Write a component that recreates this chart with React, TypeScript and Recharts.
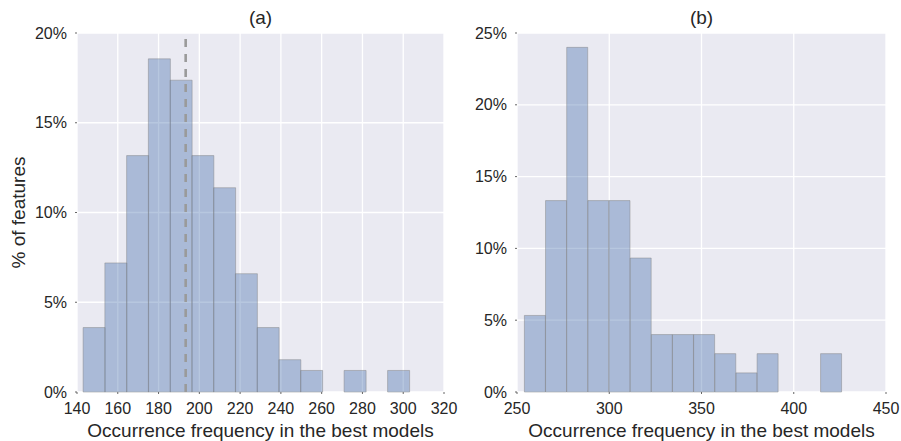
import React from 'react';
import { BarChart, Bar, XAxis, YAxis, CartesianGrid, ReferenceLine } from 'recharts';

// (a) bin centres and share of features (%)
const binsA = [148.33, 159.0, 169.67, 180.33, 191.0, 201.67, 212.33, 223.0, 233.67, 244.33, 255.0, 265.67, 276.33, 287.0, 297.67];
const pctA = [3.59, 7.19, 13.17, 18.56, 17.37, 13.17, 11.38, 6.59, 3.59, 1.8, 1.2, 0, 1.2, 0, 1.2];
const meanA = 193.3;
const xTicksA = [140, 160, 180, 200, 220, 240, 260, 280, 300, 320];
const yTicksA = [0, 5, 10, 15, 20];

// (b)
const binsB = [259.73, 271.2, 282.67, 294.13, 305.6, 317.07, 328.53, 340.0, 351.47, 362.93, 374.4, 385.87, 397.33, 408.8, 420.27];
const pctB = [5.33, 13.33, 24.0, 13.33, 13.33, 9.33, 4.0, 4.0, 4.0, 2.67, 1.33, 2.67, 0, 0, 2.67];
const xTicksB = [250, 300, 350, 400, 450];
const yTicksB = [0, 5, 10, 15, 20, 25];

const FONT = '"Liberation Sans", Arial, sans-serif';
const TEXT = '#262626';
const X_LABEL = 'Occurrence frequency in the best models';

interface HistProps {
  title: string;
  bins: number[];
  pct: number[];
  xTicks: number[];
  yTicks: number[];
  left: number;
  width: number;
  yAxisWidth: number;
  yLabel?: string;
  mean?: number;
}

function Histogram({ title, bins, pct, xTicks, yTicks, left, width, yAxisWidth, yLabel, mean }: HistProps) {
  const data = bins.map((x, i) => ({ x, pct: pct[i] }));
  const xDomain = [xTicks[0], xTicks[xTicks.length - 1]];
  const yDomain = [yTicks[0], yTicks[yTicks.length - 1]];
  const plotCenter = yAxisWidth + (width - yAxisWidth - 15) / 2;

  return (
    <div style={{ position: 'absolute', left, top: 0, width, height: 441 }}>
      <div
        style={{
          position: 'absolute',
          left: plotCenter - 40,
          width: 80,
          top: 7,
          textAlign: 'center',
          fontSize: 19,
          color: TEXT,
          fontFamily: FONT,
          lineHeight: '22px',
        }}
      >
        {title}
      </div>
      <BarChart
        width={width}
        height={441}
        data={data}
        margin={{ top: 33, right: 15, bottom: 0, left: 0 }}
        barCategoryGap={0}
        barGap={0}
      >
        <CartesianGrid fill="#EAEAF2" stroke="#ffffff" strokeWidth={1.3} />
        <XAxis
          dataKey="x"
          type="number"
          domain={xDomain}
          ticks={xTicks}
          allowDataOverflow
          height={49}
          axisLine={false}
          tickSize={2}
          tickMargin={9}
          tickLine={{ stroke: '#666' }}
          tick={{ fill: TEXT, fontSize: 16, fontFamily: FONT }}
          label={{ value: X_LABEL, position: 'insideBottom', offset: 4, fill: TEXT, fontSize: 19, fontFamily: FONT }}
        />
        <YAxis
          type="number"
          domain={yDomain}
          ticks={yTicks}
          width={yAxisWidth}
          axisLine={false}
          tickSize={2}
          tickMargin={8}
          tickLine={{ stroke: '#666' }}
          tickFormatter={(v: number) => `${v}%`}
          tick={{ fill: TEXT, fontSize: 16, fontFamily: FONT }}
          label={
            yLabel
              ? { value: yLabel, angle: -90, position: 'insideLeft', offset: 18, textAnchor: 'middle', fill: TEXT, fontSize: 19, fontFamily: FONT }
              : undefined
          }
        />
        <Bar
          dataKey="pct"
          fill="#4C72B0"
          fillOpacity={0.4}
          stroke="#808080"
          strokeOpacity={0.45}
          strokeWidth={1}
          isAnimationActive={false}
        />
        {mean !== undefined && (
          <ReferenceLine x={mean} stroke="#9a9a9a" strokeWidth={2.6} strokeDasharray="8 7" />
        )}
      </BarChart>
    </div>
  );
}

export default function App() {
  return (
    <div style={{ position: 'absolute', left: 0, top: 0, width: 901, height: 441, background: '#fff' }}>
      <Histogram
        title="(a)"
        bins={binsA}
        pct={pctA}
        xTicks={xTicksA}
        yTicks={yTicksA}
        left={0}
        width={459}
        yAxisWidth={77}
        yLabel="% of features"
        mean={meanA}
      />
      <Histogram
        title="(b)"
        bins={binsB}
        pct={pctB}
        xTicks={xTicksB}
        yTicks={yTicksB}
        left={460}
        width={441}
        yAxisWidth={57}
      />
    </div>
  );
}
